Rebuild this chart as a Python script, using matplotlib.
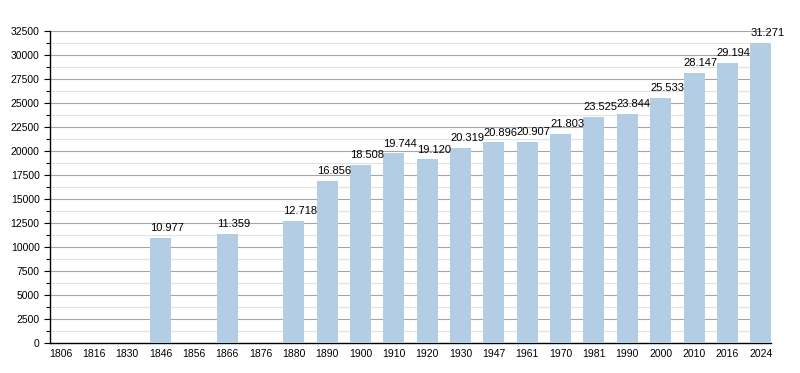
import matplotlib
matplotlib.use("Agg")
import matplotlib.pyplot as plt
from matplotlib.ticker import MultipleLocator

plt.rcParams['font.family'] = ['Liberation Sans', 'DejaVu Sans']

years = ["1806", "1816", "1830", "1846", "1856", "1866", "1876", "1880", "1890", "1900",
         "1910", "1920", "1930", "1947", "1961", "1970", "1981", "1990", "2000", "2010",
         "2016", "2024"]
population = [None, None, None, 10977, None, 11359, None, 12718, 16856, 18508,
              19744, 19120, 20319, 20896, 20907, 21803, 23525, 23844, 25533, 28147,
              29194, 31271]

fig = plt.figure(figsize=(8, 3.73), dpi=100)
ax = fig.add_axes([0.0625, 0.0804, 0.9015, 0.8365])

w = 0.63
xs = list(range(len(years)))
for x, v in zip(xs, population):
    if v is None:
        continue
    ax.bar(x, v, width=w, color='#b3cde5', zorder=3)
    ax.annotate(f"{v/1000:.3f}", xy=(x - w / 2, v), xytext=(0, 3.5),
                textcoords='offset points', ha='left', va='bottom',
                fontsize=8, zorder=4)

ax.set_xlim(-w / 2, len(years) - 1 + w / 2)
ax.set_ylim(0, 32500)
ax.set_xticks(xs)
ax.set_xticklabels(years, fontsize=7.5)
ax.yaxis.set_major_locator(MultipleLocator(2500))
ax.yaxis.set_minor_locator(MultipleLocator(1250))
ax.tick_params(axis='y', labelsize=7.5, length=4, width=0.8)
ax.tick_params(axis='y', which='minor', length=3, width=0.8)
ax.tick_params(axis='x', length=0, pad=4)
ax.grid(axis='y', which='major', color='#a6a6a6', linewidth=0.8, zorder=0)
ax.grid(axis='y', which='minor', color='#e3e3e3', linewidth=0.8, zorder=0)
for s in ['top', 'right']:
    ax.spines[s].set_visible(False)
ax.spines['left'].set_linewidth(1)
ax.spines['bottom'].set_linewidth(1)

fig.savefig("out.png", dpi=100)
